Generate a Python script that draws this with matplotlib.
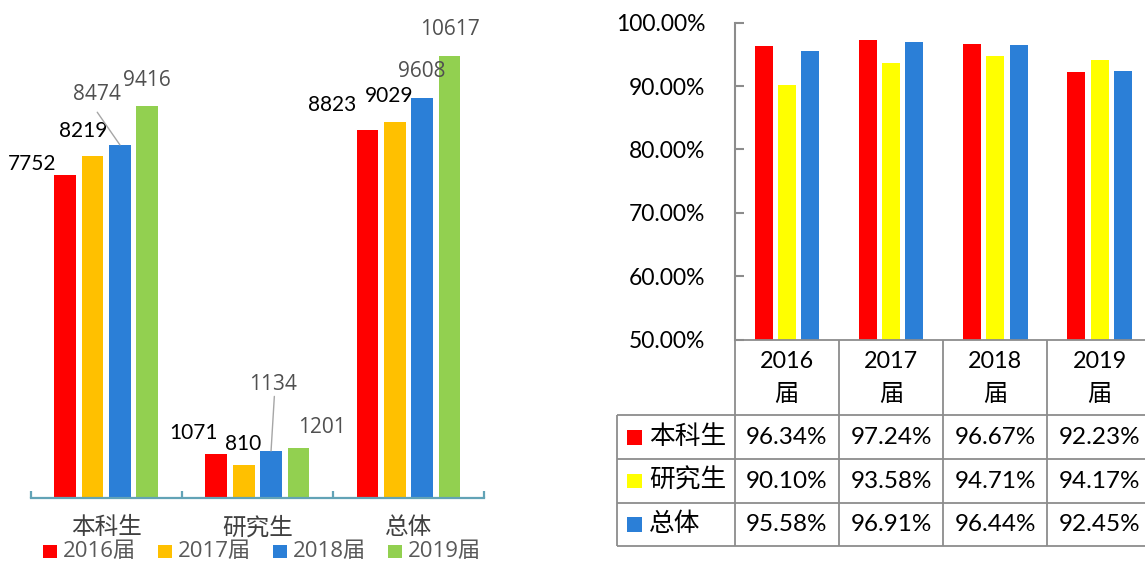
import matplotlib
matplotlib.use("Agg")
import matplotlib.pyplot as plt
import matplotlib.transforms as mtransforms
from matplotlib.patches import Rectangle

# ---------------- data ----------------
left_categories = ["本科生", "研究生", "总体"]
left_series = ["2016届", "2017届", "2018届", "2019届"]
grads_2016 = [7752, 1071, 8823]
grads_2017 = [8219, 810, 9029]
grads_2018 = [8474, 1134, 9608]
grads_2019 = [9416, 1201, 10617]

right_years = ["2016届", "2017届", "2018届", "2019届"]
right_series = ["本科生", "研究生", "总体"]
rate_undergrad = [96.34, 97.24, 96.67, 92.23]
rate_graduate = [90.10, 93.58, 94.71, 94.17]
rate_total = [95.58, 96.91, 96.44, 92.45]
right_yticks = [50, 60, 70, 80, 90, 100]
right_yticklabels = ["50.00%", "60.00%", "70.00%", "80.00%", "90.00%", "100.00%"]

# ---------------- style / layout ----------------
W, H = 1145, 562
left_colors = ["#FF0000", "#FFC000", "#2B7FD7", "#92D050"]
right_colors = ["#FF0000", "#FFFF00", "#2B7FD7"]
LATIN = ["Lato", "Noto Sans CJK SC"]
SEGOE = ["Open Sans", "Noto Sans CJK SC"]
CJK = ["Noto Sans CJK SC", "DejaVu Sans"]
grid_col = "#8C8C8C"
axis_teal = "#62A3B6"

# label offsets (pixels) from bar tops, per series x category
label_offsets = [
    [(-33.5, 11), (-23, 20.3), (-34.8, 25.4)],
    [(-9.4, 24.9), (-0.4, 20.5), (-5.7, 25.8)],
    [(-23.5, 50), (2.1, 67), (-0.3, 25.9)],
    [(-0.2, 25.6), (23.2, 20.9), (0.3, 26.3)],
]
leader_starts = {(2, 0): (-22.7, 32.7), (2, 1): (3.3, 54.6)}

fig = plt.figure(figsize=(W / 100, H / 100), dpi=100)
fig.patch.set_facecolor("white")
pxT = mtransforms.Affine2D().scale(1 / W, -1 / H).translate(0, 1) + fig.transFigure


def px_axes(l, t, r, b):
    return fig.add_axes([l / W, 1 - b / H, (r - l) / W, (b - t) / H])


# ---------------- left chart ----------------
ax1 = px_axes(30.7, 20, 484, 498.3)
ax1.set_xlim(-0.5, 2.5)
ax1.set_ylim(0, 11470)
bw, step = 0.1436, 0.1813
series_vals = [grads_2016, grads_2017, grads_2018, grads_2019]
for i, vals in enumerate(series_vals):
    xs = [c + (i - 1.5) * step for c in range(len(left_categories))]
    ax1.bar(xs, vals, width=bw, color=left_colors[i], linewidth=0)
    dark = i < 2
    for c, (x, v) in enumerate(zip(xs, vals)):
        dx, dy = label_offsets[i][c]
        ax1.annotate(str(v), xy=(x, v), xytext=(dx, dy), textcoords="offset pixels",
                     ha="center", va="center", fontsize=15,
                     family=LATIN if dark else SEGOE,
                     color="#000000" if dark else "#505050", annotation_clip=False)
        if (i, c) in leader_starts:
            sx, sy = leader_starts[(i, c)]
            ax1.annotate("", xy=(x, v), xytext=(sx, sy), textcoords="offset pixels",
                         arrowprops=dict(arrowstyle="-", color="#A6A6A6", lw=1.0,
                                         shrinkA=0, shrinkB=0),
                         annotation_clip=False)

for s in ["left", "top", "right"]:
    ax1.spines[s].set_visible(False)
ax1.spines["bottom"].set_color(axis_teal)
ax1.spines["bottom"].set_linewidth(1.6)
ax1.set_yticks([])
ax1.set_xticks([-0.5, 0.5, 1.5, 2.5])
ax1.set_xticklabels([])
ax1.tick_params(axis="x", which="major", direction="in", length=5, width=1.6, color=axis_teal)
ax1.set_xticks(range(len(left_categories)), minor=True)
ax1.set_xticklabels(left_categories, minor=True, family=CJK, fontsize=17, color="#404040")
ax1.tick_params(axis="x", which="minor", length=0, pad=13)

# legend of left chart
for i, lab in enumerate(left_series):
    x0 = 43.3 + i * 115
    fig.patches.append(Rectangle((x0, 545), 13.3, 13.3, transform=pxT,
                                 facecolor=left_colors[i], edgecolor="none"))
    fig.text(x0 + 20, 551.7, lab, transform=pxT, ha="left", va="center",
             fontsize=16, family=SEGOE, color="#595959")

# ---------------- right chart ----------------
ax2 = px_axes(734.7, 22.7, 1151.7, 339.7)
ax2.set_xlim(-0.5, 3.5)
ax2.set_ylim(50, 100)
rbw, rstep = 0.1727, 0.2226
rates = [rate_undergrad, rate_graduate, rate_total]
for i, vals in enumerate(rates):
    xs = [c + (i - 1) * rstep for c in range(len(right_years))]
    ax2.bar(xs, vals, width=rbw, bottom=0, color=right_colors[i], linewidth=0)
for s in ["top", "right", "bottom"]:
    ax2.spines[s].set_visible(False)
ax2.spines["left"].set_color(grid_col)
ax2.spines["left"].set_linewidth(1.5)
ax2.set_xticks([])
ax2.set_yticks(right_yticks)
ax2.set_yticklabels(right_yticklabels, family=LATIN, fontsize=16.5, color="#000000")
ax2.tick_params(axis="y", direction="in", length=6.3, width=1.5, color=grid_col, pad=21)

# table below right chart
rlw = 117.4 / 104.25
tax = px_axes(617.3, 340, 1151.7, 546)
tax.axis("off")
tax.set_xlim(-0.5 - rlw, 3.5)
tax.set_ylim(206, 0)
row_lines = [75, 119.3, 162.7, 206]
row_centers = [97.5, 141, 184.3]
lkw = dict(color=grid_col, lw=1.3, clip_on=False)
tax.hlines([0], -0.5, 3.5, **lkw)
tax.hlines(row_lines, -0.5 - rlw, 3.5, **lkw)
tax.vlines([j - 0.5 for j in range(len(right_years) + 1)], 0, 206, **lkw)
tax.vlines([-0.5 - rlw], 75, 206, **lkw)
for j, yr in enumerate(right_years):
    tax.text(j, 21, yr[:-1], ha="center", va="center", family=LATIN, fontsize=16.8)
    tax.text(j, 54, yr[-1], ha="center", va="center", family=CJK, fontsize=17.5)
for r, name in enumerate(right_series):
    yc = row_centers[r]
    tax.add_patch(Rectangle((-0.5 - rlw + 10 / 104.25, yc - 7.25), 14.5 / 104.25, 14.5,
                            facecolor=right_colors[r], edgecolor="none", clip_on=False))
    tax.text(-0.5 - rlw + 31.7 / 104.25, yc, name, ha="left", va="center",
             family=CJK, fontsize=18.5)
    for j, v in enumerate(rates[r]):
        tax.text(j, yc, f"{v:.2f}%", ha="center", va="center", family=LATIN, fontsize=17.5)

fig.savefig("out.png", dpi=100)
